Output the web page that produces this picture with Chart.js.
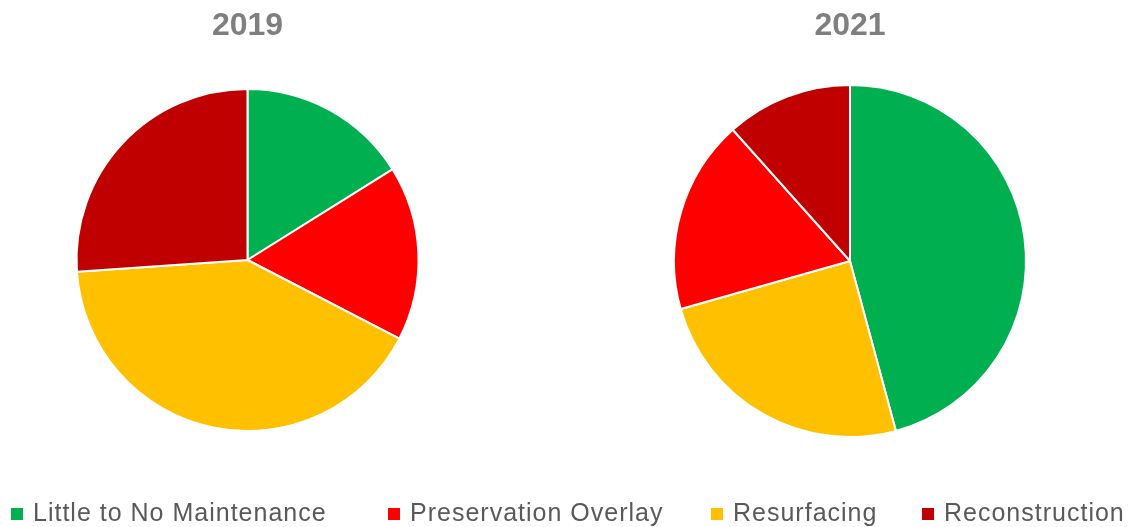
<!DOCTYPE html>
<html>
<head>
<meta charset="utf-8">
<script src="https://cdn.jsdelivr.net/npm/chart.js@4/dist/chart.umd.min.js"></script>
<style>
  body { margin: 0; background: #fff; width: 1134px; height: 527px; overflow: hidden; position: relative; }
  .box { position: absolute; }
  #legend { position: absolute; left: 0; top: 0; width: 1134px; height: 527px; pointer-events: none; }
  .item { position: absolute; top: 500px; height: 26px; font: 25px "Liberation Sans", Arial, sans-serif; letter-spacing: 1px; color: #595959; white-space: nowrap; }
  .item i { position: absolute; left: 0; top: 8px; width: 12px; height: 12px; }
  .item span { position: absolute; left: 22px; top: -2px; }
</style>
</head>
<body>
<div class="box" style="left:0px;top:0px;width:495px;height:460px;"><canvas id="pie2019"></canvas></div>
<div class="box" style="left:566px;top:0px;width:568px;height:462px;"><canvas id="pie2021"></canvas></div>
<div id="legend"></div>
<script>
// カテゴリ(凡例の順)
var categories = ["Little to No Maintenance", "Preservation Overlay", "Resurfacing", "Reconstruction"];
var colors = ["#00B050", "#FF0000", "#FFC000", "#C00000"];

// 年別の割合(%)
var years = ["2019", "2021"];
var order2019 = ["Little to No Maintenance", "Preservation Overlay", "Resurfacing", "Reconstruction"];
var values2019 = [16.1, 16.5, 41.3, 26.1];
// 2021は並び順が違う
var order2021 = ["Little to No Maintenance", "Resurfacing", "Preservation Overlay", "Reconstruction"];
var values2021 = [45.8, 24.8, 17.8, 11.6];

function colorOf(name) {
  return colors[categories.indexOf(name)];
}

function makePie(id, title, labels, values, radius) {
  var canvas = document.getElementById(id);
  return new Chart(canvas, {
    type: 'pie',
    data: {
      labels: labels,
      datasets: [{
        data: values,
        backgroundColor: labels.map(colorOf),
        borderColor: '#ffffff',
        borderWidth: 2,
        radius: radius
      }]
    },
    options: {
      responsive: true,
      maintainAspectRatio: false,
      animation: false,
      layout: { padding: 0 },
      plugins: {
        legend: { display: false },
        tooltip: { enabled: false },
        title: {
          display: true,
          text: title,
          color: '#7f7f7f',
          font: { family: '"Liberation Sans", Arial, sans-serif', size: 32, weight: 'bold', lineHeight: 1.2 },
          padding: { top: 7, bottom: 14.6 }
        }
      }
    }
  });
}

makePie('pie2019', years[0], order2019, values2019, 171);
makePie('pie2021', years[1], order2021, values2021, 176);

// 凡例
var legendLeft = [11, 388, 711, 922];
var legend = document.getElementById('legend');
categories.forEach(function(name, i) {
  var item = document.createElement('div');
  item.className = 'item';
  item.style.left = legendLeft[i] + 'px';
  var sq = document.createElement('i');
  sq.style.background = colors[i];
  var tx = document.createElement('span');
  tx.textContent = name;
  item.appendChild(sq);
  item.appendChild(tx);
  legend.appendChild(item);
});
</script>
</body>
</html>
